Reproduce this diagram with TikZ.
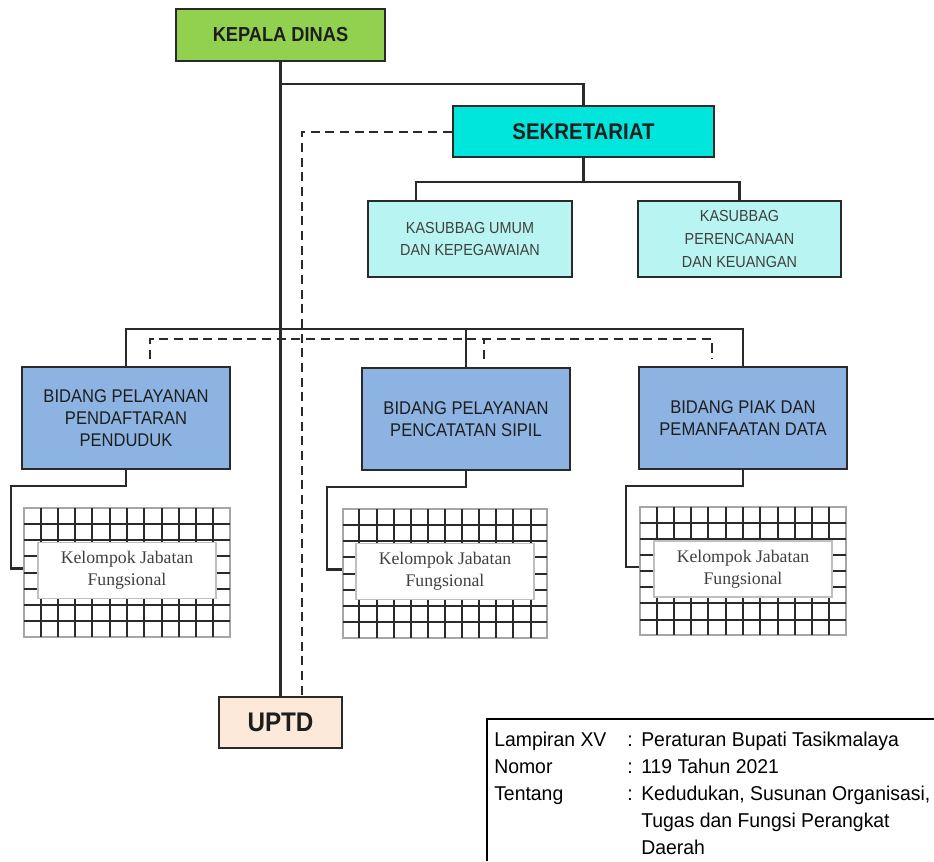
\documentclass[tikz,border=0pt]{standalone}
\usepackage{fontspec}
\setmainfont{Liberation Sans}
\newfontfamily\boxfont[FakeStretch=0.9]{Liberation Sans}
\newfontfamily\infofont[FakeStretch=0.97]{Liberation Sans}
\newfontfamily\seriffont{Liberation Serif}
\usetikzlibrary{calc}
\definecolor{kepalac}{HTML}{92D050}
\definecolor{sekc}{HTML}{00E6DC}
\definecolor{kasubc}{HTML}{B8F4F1}
\definecolor{bidangc}{HTML}{8DB3E2}
\definecolor{uptdc}{HTML}{FDE9D9}
\definecolor{linec}{HTML}{2A2A2A}
\definecolor{textc}{HTML}{1E1E1E}
\def\u{0.75pt}
\tikzset{
  orgbox/.style={draw=linec, line width=1.8pt, inner sep=0pt, align=center, text=textc},
  titlebox/.style={orgbox, font=\boxfont\bfseries\fontsize{15.2}{18}\selectfont},
  kasubbox/.style={orgbox, fill=kasubc, minimum height=76*\u, text=textc!85,
     font=\boxfont\fontsize{12}{17.2}\selectfont},
  bidbox/.style={orgbox, fill=bidangc, minimum width=208*\u, minimum height=102*\u,
     font=\boxfont\fontsize{13.8}{16.5}\selectfont},
  gridframe/.style={draw=gray!70, line width=1pt, inner sep=0pt, minimum width=206*\u, minimum height=129*\u},
  gridl/.style={draw=linec, line width=1.5pt},
  fjbox/.style={draw=gray!50, line width=1pt, fill=white, inner sep=0pt, align=center,
     minimum width=178*\u, minimum height=56*\u, text=textc!85,
     font=\seriffont\fontsize{13.3}{16.3}\selectfont},
  conn/.style={draw=linec, line width=1.7pt},
  dashl/.style={draw=linec, line width=1.5pt, dash pattern=on 6.8pt off 4.2pt},
  info/.style={anchor=base west, inner sep=0pt, text=black, font=\infofont\fontsize{15}{18}\selectfont}
}
\newcommand\gridlinesof[1]{%
  \foreach \i in {1,...,11}
    \draw[gridl] ($(#1.north west)!\i/12!(#1.north east)$) -- ($(#1.south west)!\i/12!(#1.south east)$);
  \foreach \j in {1,...,7}
    \draw[gridl] ($(#1.north west)!\j/8!(#1.south west)$) -- ($(#1.north east)!\j/8!(#1.south east)$);
  \draw[draw=gray!70, line width=1.2pt] (#1.north west) rectangle (#1.south east);
}
\begin{document}
\begin{tikzpicture}[x=0.75pt,y=-0.75pt]
\useasboundingbox (0,0) rectangle (934,861);

% boxes
\node[titlebox, fill=kepalac, minimum width=209*\u, minimum height=52*\u] (kepala) at (280.5,35) {KEPALA DINAS};
\node[titlebox, fill=sekc, minimum width=261*\u, minimum height=51*\u,
      font=\boxfont\bfseries\fontsize{17}{20}\selectfont] (sek) at (583.5,131.5) {SEKRETARIAT};
\node[kasubbox, minimum width=204*\u] (ku) at (470,239) {KASUBBAG UMUM\\DAN KEPEGAWAIAN};
\node[kasubbox, minimum width=203*\u] (kp) at (739.5,239) {KASUBBAG\\PERENCANAAN\\DAN KEUANGAN};
\node[bidbox] (b1) at (126,418) {BIDANG PELAYANAN\\PENDAFTARAN\\PENDUDUK};
\node[bidbox] (b2) at (466,419) {BIDANG PELAYANAN\\PENCATATAN SIPIL};
\node[bidbox] (b3) at (743,418) {BIDANG PIAK DAN\\PEMANFAATAN DATA};
\node[titlebox, fill=uptdc, minimum width=123*\u, minimum height=51*\u,
      font=\boxfont\bfseries\fontsize{20.2}{24}\selectfont] (uptd) at (280.5,722.5) {UPTD};

% grids
\node[gridframe] (g1) at (127,572.5) {};
\node[gridframe, minimum width=204*\u] (g2) at (445,573.5) {};
\node[gridframe, minimum height=128*\u] (g3) at (743,571) {};
\gridlinesof{g1}
\gridlinesof{g2}
\gridlinesof{g3}
\node[fjbox] (f1) at ($(g1.center)+(0,-2)$) {Kelompok Jabatan\\Fungsional};
\node[fjbox] (f2) at ($(g2.center)+(0,-2)$) {Kelompok Jabatan\\Fungsional};
\node[fjbox] (f3) at ($(g3.center)+(0,-2)$) {Kelompok Jabatan\\Fungsional};

% solid connectors
\draw[conn] (kepala.south) -- (uptd.north);
\draw[conn] (kepala.south) ++(0,22) -| (sek.north);
\draw[conn] (sek.south) -- ++(0,24) coordinate (j2);
\draw[conn] ($(ku.north)+(-54,0)$) |- (j2) -| (kp.north);
\coordinate (rowy) at (0,329);
\draw[conn] (b1.north) |- (rowy -| b3.north) -- (b3.north);
\draw[conn] (b2.north) -- (b2.north |- rowy);
\draw[conn] (b1.south) -- ++(0,16) -| ($(g1.west)+(-12,-4)$) -- ($(g1.west)+(0,-4)$);
\draw[conn] (b2.south) -- ++(0,16) -| ($(g2.west)+(-15,-4)$) -- ($(g2.west)+(0,-4)$);
\draw[conn] (b3.south) -- ++(0,16) -| ($(g3.west)+(-13,-4)$) -- ($(g3.west)+(0,-4)$);

% dashed connectors
\draw[dashl] (sek.west) -| ($(uptd.north)+(21.5,0)$);
\draw[dashl] ($(b1.north)+(24,-7)$) -- ($(b1.north)+(24,-27)$) -- ($(b3.north)+(-31,-27)$) -- ($(b3.north)+(-31,-7)$);
\draw[dashl] ($(b2.north)+(18,-8)$) -- ($(b2.north)+(18,-28)$);

% info box
\coordinate (ibl) at (487,861);
\coordinate (ibt) at (487,719);
\coordinate (ibr) at (934,719);
\draw[draw=black, line width=1.3pt] (ibl) -- (ibt) -- (ibr);
\node[info] (l1a) at (494,746) {Lampiran XV};
\node[info] (l1b) at (627,746) {:};
\node[info] (l1c) at (641,746) {Peraturan Bupati Tasikmalaya};
\node[info] (l2a) at (494,773) {Nomor};
\node[info] (l2b) at (627,773) {:};
\node[info] (l2c) at (641,773) {119 Tahun 2021};
\node[info] (l3a) at (494,800) {Tentang};
\node[info] (l3b) at (627,800) {:};
\node[info] (l3c) at (641,800) {Kedudukan, Susunan Organisasi,};
\node[info] (l4c) at (641,827) {Tugas dan Fungsi Perangkat};
\node[info] (l5c) at (641,854) {Daerah};
\end{tikzpicture}
\end{document}
